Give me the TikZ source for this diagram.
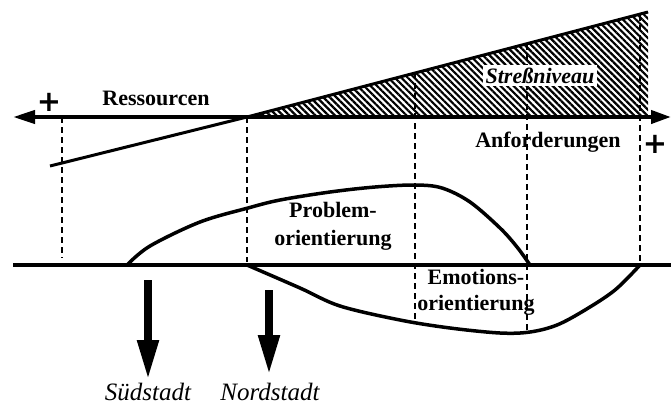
\documentclass[tikz,border=0pt]{standalone}
\usepackage{fontspec}
\setmainfont{Liberation Serif}
\newfontfamily\signfont{DejaVu Sans}
\usetikzlibrary{arrows.meta,patterns.meta}
\begin{document}
\begin{tikzpicture}[x=1pt,y=-1pt,
  lbl/.style={font=\fontsize{22}{26}\selectfont\bfseries, inner sep=0pt, anchor=base},
  town/.style={font=\fontsize{25}{28}\selectfont\itshape, inner sep=0pt, anchor=base},
  sign/.style={font=\signfont\fontsize{29}{30}\selectfont\bfseries, inner sep=0pt},
  guide/.style={line width=1.8pt, dash pattern=on 6pt off 4pt},
  curve/.style={line width=3.5pt, line cap=round},
  axis/.style={line width=4pt},
  move/.style={line width=8pt, -{Triangle[length=40pt,width=20pt]}}]
\useasboundingbox (0,0) rectangle (671,405);

% key points of the demand/resource axis
\coordinate (axL) at (13,117);
\coordinate (axR) at (671,117);
\coordinate (cross) at (247,117);
\coordinate (top) at (648,12);
\coordinate (topB) at (648,117);
\coordinate (resEnd) at (50,166);

% stress level: hatched wedge above the axis
\fill[pattern={Lines[angle=-45,distance=4.6pt,line width=2.2pt]}]
  (cross) -- (top) -- (topB) -- cycle;
\draw[line width=3pt] (cross) -- (top);

% dashed guide lines
\draw[guide] (62,117) -- (62,258);
\draw[guide] (247,117) -- (247,262);
\draw[guide] (415,73) -- (415,322);
\draw[guide] (527,44) -- (527,332);
\draw[guide] (640,15) -- (640,265);

% resources line
\draw[line width=3pt] (resEnd) -- (cross);

% main axis with arrows both ways
\draw[axis, {Triangle[length=22pt,width=13pt]}-{Triangle[length=20pt,width=13pt]}] (axL) -- (axR);

% baseline
\coordinate (bL) at (13,265);
\coordinate (bR) at (671,265);
\draw[axis] (bL) -- (bR);

% problem-focused coping
\draw[curve] plot[smooth, tension=0.55] coordinates {
  (127,265) (150,246) (200,222) (248,208) (280,200) (330,192)
  (375,187) (415,185) (442,188) (470,202) (500,228) (517,247) (530,265)};

% emotion-focused coping
\draw[curve] plot[smooth, tension=0.55] coordinates {
  (247,265) (300,288) (340,306) (400,320) (450,328) (500,333)
  (530,332) (557,325) (585,310) (615,290) (640,265)};

% labels
\node[lbl] (res) at (156,105) {Ressourcen};
\node[lbl] (anf) at (548,147) {Anforderungen};
\node[lbl, fill=white, inner sep=3pt, font=\fontsize{22}{26}\selectfont\bfseries\itshape] (stress) at (540,83) {Streßniveau};
\node[lbl] (p1) at (333,217) {Problem-};
\node[lbl] (p2) at (333,245) {orientierung};
\node[lbl] (e1) at (476,284) {Emotions-};
\node[lbl] (e2) at (476,310) {orientierung};
\node[sign] (plusL) at (49,102) {+};
\node[sign] (plusR) at (655,144) {+};

% towns
\coordinate (sTop) at (148,280);
\coordinate (sTip) at (148,380);
\coordinate (nTop) at (269,290);
\coordinate (nTip) at (269,375);
\draw[move] (sTop) -- (sTip);
\draw[move] (nTop) -- (nTip);
\node[town] (sued) at (148,400) {Südstadt};
\node[town] (nord) at (270,400) {Nordstadt};
\end{tikzpicture}
\end{document}
